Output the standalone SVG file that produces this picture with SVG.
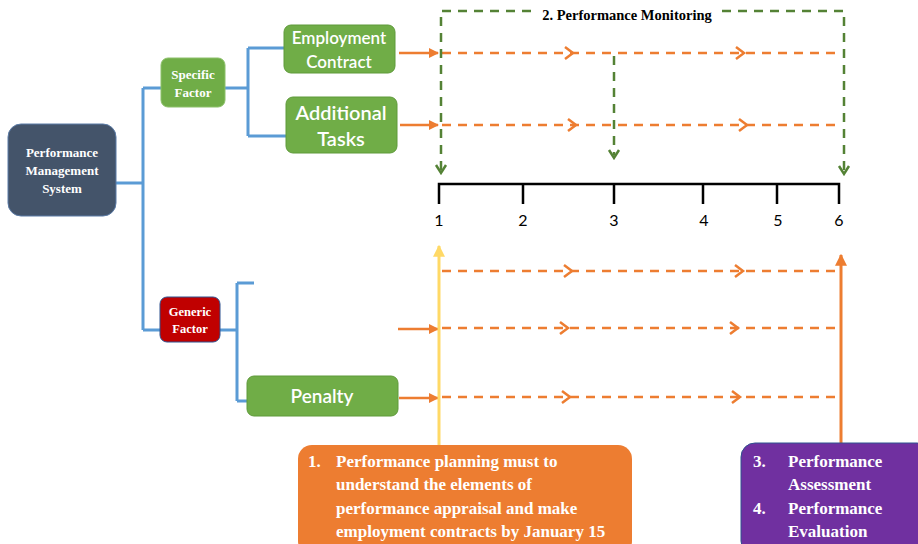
<svg xmlns="http://www.w3.org/2000/svg" width="918" height="544" viewBox="0 0 918 544">
<defs>
<style>
.blue{fill:none;stroke:#5B9BD5;stroke-width:3}
.od{fill:none;stroke:#ED7D31;stroke-width:2.5;stroke-dasharray:9,7}
.os{fill:none;stroke:#ED7D31;stroke-width:2.5}
.chev{fill:none;stroke:#ED7D31;stroke-width:2.5}
.gd{fill:none;stroke:#548235;stroke-width:2.5;stroke-dasharray:9,7}
.gchev{fill:none;stroke:#548235;stroke-width:2.5}
.ser{font-family:"Liberation Serif",serif;font-weight:bold;fill:#fff;text-anchor:middle}
.san{font-family:Lato,"Liberation Sans",sans-serif;fill:#fff;text-anchor:middle}
.num{font-family:Lato,"Liberation Sans",sans-serif;font-size:16px;fill:#000;text-anchor:middle}
.big{font-family:"Liberation Serif",serif;font-weight:bold;font-size:17px;fill:#fff}
</style>
<marker id="ah" viewBox="0 0 10 10" refX="9" refY="5" markerWidth="4" markerHeight="4" orient="auto"><path d="M0,0 L10,5 L0,10 z" fill="#ED7D31"/></marker>
<marker id="ahy" viewBox="0 0 10 10" refX="9" refY="5" markerWidth="4" markerHeight="4" orient="auto"><path d="M0,0 L10,5 L0,10 z" fill="#FFD966"/></marker>
</defs>
<rect width="918" height="544" fill="#fff"/>

<g id="connectors">
<path class="blue" d="M116,183 H143 M143,88 V330 M143,88 H162 M143,330 H161"/>
<path class="blue" d="M225,88 H248 M248,48 V136 M248,48 H286 M248,136 H288"/>
<path class="blue" d="M220,330 H237 M237,283 V401 M237,283 H254 M237,401 H256"/>
<path class="os" d="M399,53 H438" marker-end="url(#ah)"/>
<path class="os" d="M400,125 H438" marker-end="url(#ah)"/>
<path class="os" d="M398,329 H438" marker-end="url(#ah)"/>
<path class="os" d="M399,398 H438" marker-end="url(#ah)"/>
<path class="od" d="M442,53 H838"/>
<path class="od" d="M442,125 H838"/>
<path class="od" d="M442,271 H840"/>
<path class="od" d="M442,328 H838"/>
<path class="od" d="M442,397 H838"/>
<path class="chev" d="M565,47 L573,53 L565,59 M736,47 L744,53 L736,59"/>
<path class="chev" d="M568,119 L576,125 L568,131 M739,119 L747,125 L739,131"/>
<path class="chev" d="M564,265 L572,271 L564,277 M735,265 L743,271 L735,277"/>
<path class="chev" d="M560,322 L568,328 L560,334 M730,322 L738,328 L730,334"/>
<path class="chev" d="M562,391 L570,397 L562,403 M732,391 L740,397 L732,403"/>
<path class="gd" d="M441,170 V11 H533 M722,11 H844 V170"/>
<path class="gd" d="M614,56 V155"/>
<path class="gchev" d="M436,165 L441,173 L446,165 M609,150 L614,158 L619,150 M839,166 L844,174 L849,166"/>
<path d="M439,204 V184 H839 V204 M523,184 V204 M614,184 V204 M703,184 V204 M777,184 V204" fill="none" stroke="#000" stroke-width="2.5"/>
<path d="M439,445 V246" fill="none" stroke="#FFD966" stroke-width="3" marker-end="url(#ahy)"/>
<path d="M841,445 V255" fill="none" stroke="#ED7D31" stroke-width="3" marker-end="url(#ah)"/>
</g>

<g id="timeline-labels">
<text class="num" x="439" y="226">1</text>
<text class="num" x="523" y="226">2</text>
<text class="num" x="614" y="226">3</text>
<text class="num" x="704" y="226">4</text>
<text class="num" x="778" y="226">5</text>
<text class="num" x="839" y="226">6</text>
</g>

<g id="monitoring">
<text x="627" y="20" font-family="Liberation Serif,serif" font-weight="bold" font-size="14.5" text-anchor="middle" fill="#000">2. Performance Monitoring</text>
</g>

<g id="pms">
<rect x="8" y="124" width="108" height="92" rx="13" fill="#44546A" stroke="#5B7BA6" stroke-width="1"/>
<text class="ser" font-size="13" x="62" y="157">Performance</text>
<text class="ser" font-size="13" x="62" y="175">Management</text>
<text class="ser" font-size="13" x="62" y="193">System</text>
</g>

<g id="specific">
<rect x="161" y="58" width="64" height="49" rx="7" fill="#70AD47" stroke="#8CC06A" stroke-width="1"/>
<text class="ser" font-size="13" x="193" y="79">Specific</text>
<text class="ser" font-size="13" x="193" y="97">Factor</text>
</g>

<g id="generic">
<rect x="160" y="297" width="60" height="45" rx="7" fill="#C00000" stroke="#2F528F" stroke-width="1"/>
<text class="ser" font-size="12.5" x="190" y="316">Generic</text>
<text class="ser" font-size="12.5" x="190" y="333">Factor</text>
</g>

<g id="employment">
<rect x="284" y="25" width="111" height="48" rx="7" fill="#70AD47" stroke="#5E9A3A" stroke-width="1"/>
<text class="san" font-size="17" font-weight="600" x="339" y="44">Employment</text>
<text class="san" font-size="17" font-weight="600" x="339" y="68">Contract</text>
</g>

<g id="additional">
<rect x="286" y="97" width="111" height="56" rx="7" fill="#70AD47" stroke="#5E9A3A" stroke-width="1"/>
<text class="san" font-size="20" font-weight="600" x="341" y="120">Additional</text>
<text class="san" font-size="20" font-weight="600" x="341" y="146">Tasks</text>
</g>

<g id="penalty">
<rect x="247" y="376" width="151" height="40" rx="7" fill="#70AD47" stroke="#5E9A3A" stroke-width="1"/>
<text class="san" font-size="19" font-weight="600" x="322" y="403">Penalty</text>
</g>

<g id="planning">
<rect x="298" y="445" width="334" height="110" rx="14" fill="#ED7D31"/>
<text class="big" x="308" y="467">1.</text>
<text class="big" x="336" y="467">Performance planning must to</text>
<text class="big" x="336" y="490">understand the elements of</text>
<text class="big" x="336" y="514">performance appraisal and make</text>
<text class="big" x="336" y="537">employment contracts by January 15</text>
</g>

<g id="assessment">
<rect x="741" y="443" width="190" height="112" rx="14" fill="#7030A0" stroke="#2F528F" stroke-width="1"/>
<text class="big" x="753" y="467">3.</text>
<text class="big" x="788" y="467">Performance</text>
<text class="big" x="788" y="490">Assessment</text>
<text class="big" x="753" y="514">4.</text>
<text class="big" x="788" y="514">Performance</text>
<text class="big" x="788" y="537">Evaluation</text>
</g>
</svg>
